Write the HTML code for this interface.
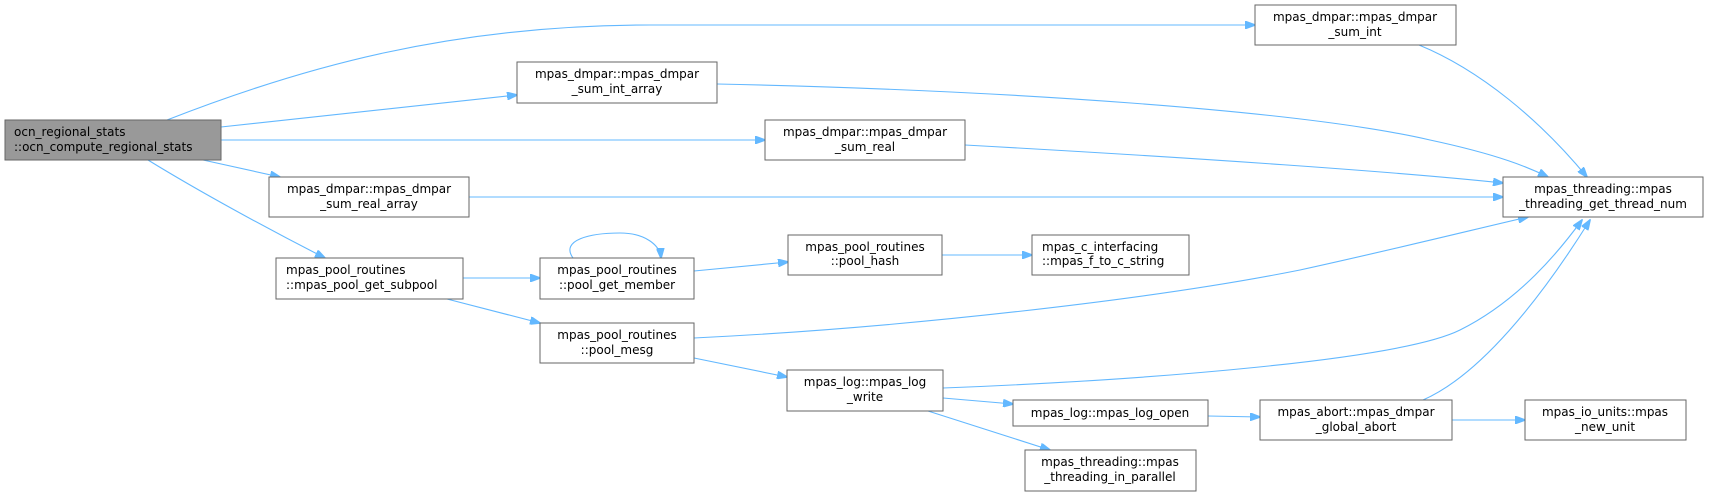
<!DOCTYPE html>
<html><head><meta charset="utf-8"><style>
body{margin:0;background:#fff;width:1713px;height:496px;overflow:hidden}
svg{display:block}
text{font-family:"DejaVu Sans","Liberation Sans",sans-serif;font-size:12px;fill:#000}
.n{fill:#fff;stroke:#666;stroke-width:1}
.e{fill:none;stroke:#63b8ff;stroke-width:1.1}
</style></head><body>
<svg width="1713" height="496" viewBox="0 0 1713 496">
<defs><marker id="a" markerWidth="11" markerHeight="8" refX="10" refY="4" orient="auto" markerUnits="userSpaceOnUse"><path d="M0,0 L11,4 L0,8 Z" fill="#63b8ff" stroke="#63b8ff"/></marker></defs>
<g class="e" marker-end="url(#a)">
<path class="e" marker-end="url(#a)" d="M167,120 C300,68 450,25 650,25 L1255,25"/>
<path class="e" marker-end="url(#a)" d="M221,127 L517,95"/>
<path class="e" marker-end="url(#a)" d="M221,140 L765,140"/>
<path class="e" marker-end="url(#a)" d="M203,160 L280,177"/>
<path class="e" marker-end="url(#a)" d="M148,160 C200,192 270,230 325,258"/>
<path class="e" marker-end="url(#a)" d="M463,278 L540,278"/>
<path class="e" marker-end="url(#a)" d="M447,299 L540,323"/>
<path class="e" marker-end="url(#a)" d="M573,258 C560,240 590,233 620,233 C645,233 660,245 661,258"/>
<path class="e" marker-end="url(#a)" d="M694,271 L788,262"/>
<path class="e" marker-end="url(#a)" d="M942,255 L1032,255"/>
<path class="e" marker-end="url(#a)" d="M694,338 C900,328 1150,300 1300,270 C1400,248 1480,228 1528,217"/>
<path class="e" marker-end="url(#a)" d="M694,358 L787,377"/>
<path class="e" marker-end="url(#a)" d="M943,388 C1150,380 1400,360 1460,330 C1520,300 1560,250 1582,220"/>
<path class="e" marker-end="url(#a)" d="M943,398 L1013,404"/>
<path class="e" marker-end="url(#a)" d="M928,411 L1050,450"/>
<path class="e" marker-end="url(#a)" d="M1208,416 L1260,417"/>
<path class="e" marker-end="url(#a)" d="M1423,400 C1480,375 1540,300 1590,220"/>
<path class="e" marker-end="url(#a)" d="M1452,420 L1525,420"/>
<path class="e" marker-end="url(#a)" d="M1419,45 C1480,70 1540,120 1587,177"/>
<path class="e" marker-end="url(#a)" d="M717,84 C1000,90 1300,110 1430,140 C1500,155 1530,168 1548,177"/>
<path class="e" marker-end="url(#a)" d="M965,145 C1200,158 1400,172 1503,183"/>
<path class="e" marker-end="url(#a)" d="M469,197 L1503,197"/>
</g>
<rect x="5" y="120" width="216" height="40" fill="#999" stroke="#666"/>
<text x="14" y="136">ocn_regional_stats</text><text x="14" y="151">::ocn_compute_regional_stats</text>

<rect class="n" x="517" y="62" width="200" height="41"/>
<text x="617" y="78" text-anchor="middle">mpas_dmpar::mpas_dmpar</text><text x="617" y="93" text-anchor="middle">_sum_int_array</text>

<rect class="n" x="269" y="177" width="200" height="40"/>
<text x="369" y="193" text-anchor="middle">mpas_dmpar::mpas_dmpar</text><text x="369" y="208" text-anchor="middle">_sum_real_array</text>

<rect class="n" x="276" y="258" width="187" height="41"/>
<text x="286" y="274">mpas_pool_routines</text><text x="286" y="289">::mpas_pool_get_subpool</text>

<rect class="n" x="540" y="258" width="154" height="41"/>
<text x="617" y="274" text-anchor="middle">mpas_pool_routines</text><text x="617" y="289" text-anchor="middle">::pool_get_member</text>

<rect class="n" x="540" y="323" width="154" height="40"/>
<text x="617" y="339" text-anchor="middle">mpas_pool_routines</text><text x="617" y="354" text-anchor="middle">::pool_mesg</text>

<rect class="n" x="765" y="120" width="200" height="40"/>
<text x="865" y="136" text-anchor="middle">mpas_dmpar::mpas_dmpar</text><text x="865" y="151" text-anchor="middle">_sum_real</text>

<rect class="n" x="788" y="235" width="154" height="40"/>
<text x="865" y="251" text-anchor="middle">mpas_pool_routines</text><text x="865" y="265" text-anchor="middle">::pool_hash</text>

<rect class="n" x="1032" y="235" width="157" height="40"/>
<text x="1042" y="251">mpas_c_interfacing</text><text x="1042" y="265">::mpas_f_to_c_string</text>

<rect class="n" x="787" y="370" width="156" height="41"/>
<text x="865" y="386" text-anchor="middle">mpas_log::mpas_log</text><text x="865" y="401" text-anchor="middle">_write</text>

<rect class="n" x="1013" y="400" width="195" height="26"/>
<text x="1110" y="417" text-anchor="middle">mpas_log::mpas_log_open</text>

<rect class="n" x="1025" y="450" width="171" height="41"/>
<text x="1110" y="466" text-anchor="middle">mpas_threading::mpas</text><text x="1110" y="481" text-anchor="middle">_threading_in_parallel</text>

<rect class="n" x="1255" y="5" width="201" height="40"/>
<text x="1355" y="21" text-anchor="middle">mpas_dmpar::mpas_dmpar</text><text x="1355" y="36" text-anchor="middle">_sum_int</text>

<rect class="n" x="1503" y="177" width="200" height="40"/>
<text x="1603" y="193" text-anchor="middle">mpas_threading::mpas</text><text x="1603" y="208" text-anchor="middle">_threading_get_thread_num</text>

<rect class="n" x="1260" y="400" width="192" height="40"/>
<text x="1356" y="416" text-anchor="middle">mpas_abort::mpas_dmpar</text><text x="1356" y="431" text-anchor="middle">_global_abort</text>

<rect class="n" x="1525" y="400" width="161" height="40"/>
<text x="1605" y="416" text-anchor="middle">mpas_io_units::mpas</text><text x="1605" y="431" text-anchor="middle">_new_unit</text>
</svg>
</body></html>
